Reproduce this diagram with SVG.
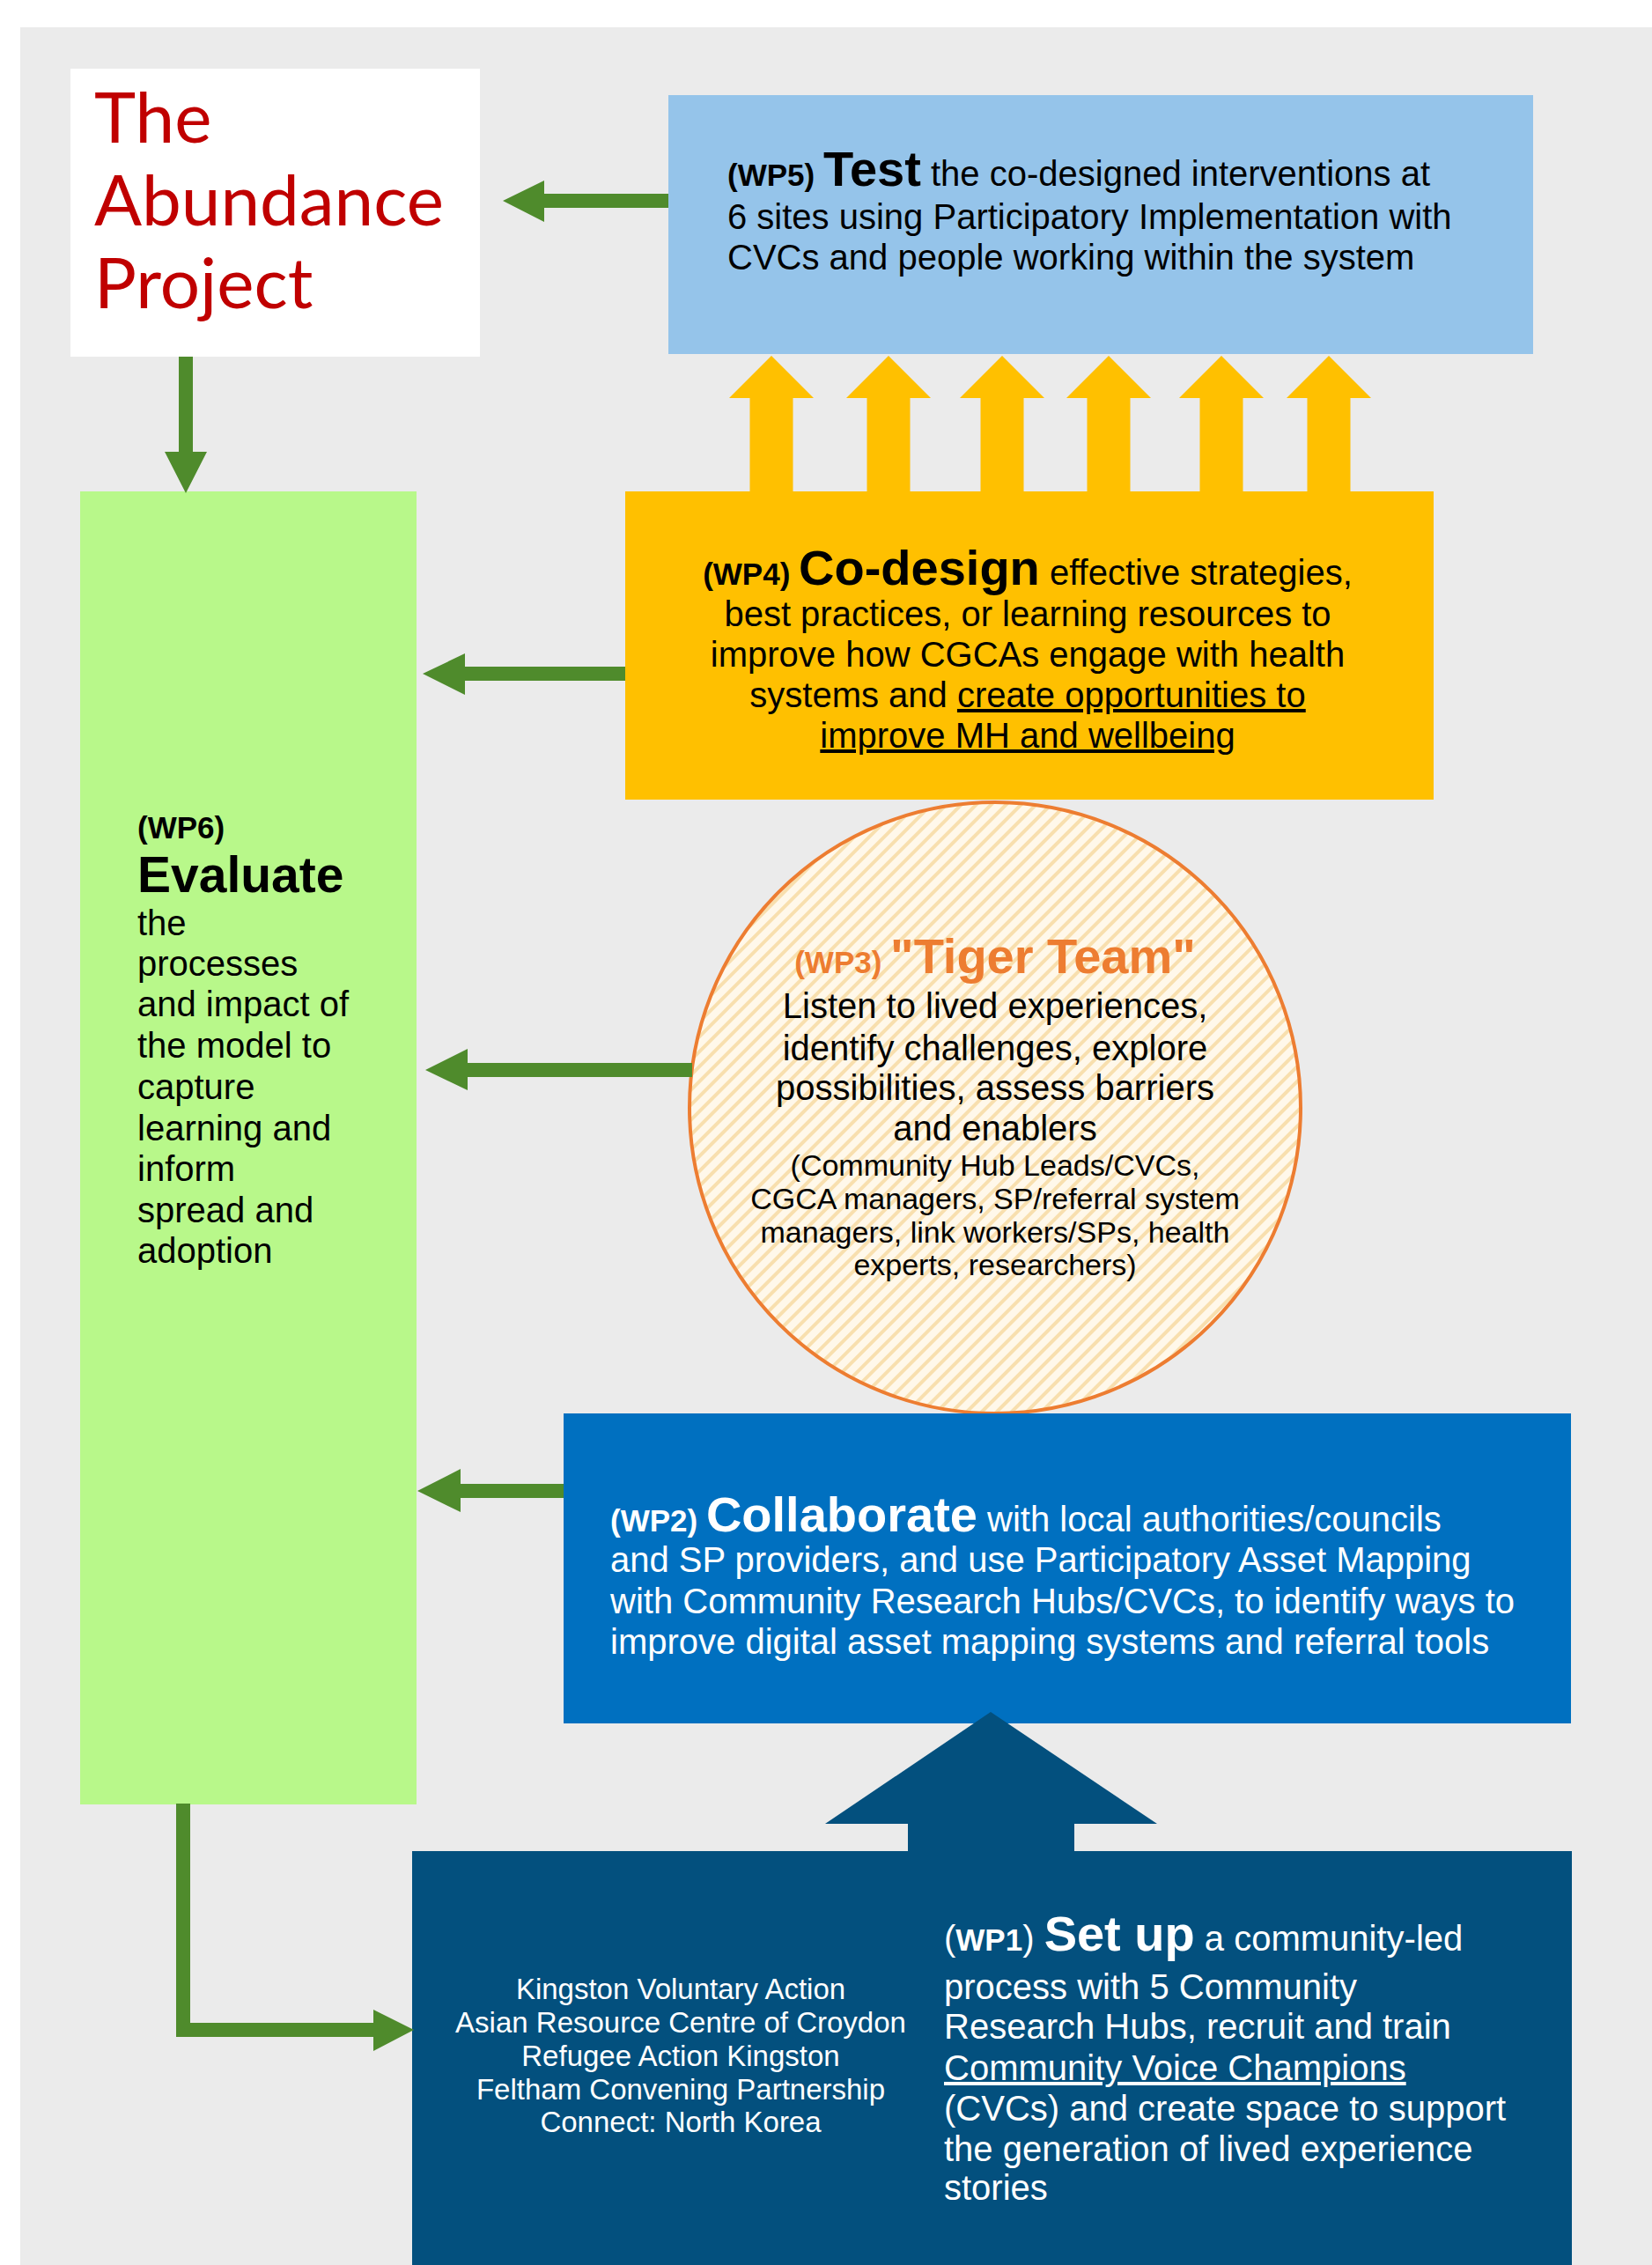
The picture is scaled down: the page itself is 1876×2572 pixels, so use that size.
<svg xmlns="http://www.w3.org/2000/svg" width="1876" height="2572" viewBox="0 0 1876 2572">
<defs>
<style>
.t{font-family:"Liberation Sans",Arial,sans-serif;font-size:40px;fill:#000}
.w{fill:#fff}
.b{font-weight:bold}
.wp{font-weight:bold;font-size:35px}
.h{font-weight:bold;font-size:56px}
.ev{font-weight:bold;font-size:57px}
.s34{font-size:34px}
.s33{font-size:33px}
.g{fill:#4F8B2C}
.y{fill:#FFC000}
.title{font-family:Lato,"Open Sans",sans-serif;font-size:80px;fill:#C00000}
</style>
<pattern id="stripes" width="12" height="12" patternUnits="userSpaceOnUse" patternTransform="rotate(45)">
<rect width="12" height="12" fill="#FFF8EA"/>
<rect width="4" height="12" fill="#F8DFAE"/>
</pattern>
</defs>
<rect x="0" y="0" width="1876" height="2572" fill="#fff"/>
<rect x="23" y="31" width="1853" height="2541" fill="#EBEBEB"/>

<g id="title">
<rect x="80" y="78" width="465" height="327" fill="#fff"/>
<text class="title" x="107" y="162">The</text>
<text class="title" x="107" y="256">Abundance</text>
<text class="title" x="107" y="350">Project</text>
</g>

<g id="wp5">
<rect x="759" y="108" width="982" height="294" fill="#95C4EA"/>
<text class="t" x="826" y="211"><tspan class="wp">(WP5) </tspan><tspan class="h">Test</tspan> the co-designed interventions at</text>
<text class="t" x="826" y="260">6 sites using Participatory Implementation with</text>
<text class="t" x="826" y="306">CVCs and people working within the system</text>
</g>

<g id="wp6">
<rect x="91" y="558" width="382" height="1491" fill="#B8F88A"/>
<text class="t wp" x="156" y="952">(WP6)</text>
<text class="t ev" x="156" y="1013">Evaluate</text>
<text class="t" x="156" y="1062">the</text>
<text class="t" x="156" y="1108">processes</text>
<text class="t" x="156" y="1154">and impact of</text>
<text class="t" x="156" y="1201">the model to</text>
<text class="t" x="156" y="1248">capture</text>
<text class="t" x="156" y="1295">learning and</text>
<text class="t" x="156" y="1341">inform</text>
<text class="t" x="156" y="1388">spread and</text>
<text class="t" x="156" y="1434">adoption</text>
</g>

<g id="wp4">
<rect x="710" y="558" width="918" height="350" fill="#FFC000"/>
<text class="t" x="1167" y="664" text-anchor="middle"><tspan class="wp">(WP4) </tspan><tspan class="h">Co-design</tspan> effective strategies,</text>
<text class="t" x="1167" y="711" text-anchor="middle">best practices, or learning resources to</text>
<text class="t" x="1167" y="757" text-anchor="middle">improve how CGCAs engage with health</text>
<text class="t" x="1167" y="803" text-anchor="middle">systems and <tspan text-decoration="underline">create opportunities to</tspan></text>
<text class="t" x="1167" y="849" text-anchor="middle" text-decoration="underline">improve MH and wellbeing</text>
</g>

<g id="wp3">
<circle cx="1130" cy="1258" r="347" fill="url(#stripes)" stroke="#ED7D31" stroke-width="4"/>
<text class="t" x="1130" y="1105" text-anchor="middle" style="fill:#ED7D31"><tspan class="wp">(WP3) </tspan><tspan class="h">"Tiger Team"</tspan></text>
<text class="t" x="1130" y="1156" text-anchor="middle">Listen to lived experiences,</text>
<text class="t" x="1130" y="1204" text-anchor="middle">identify challenges, explore</text>
<text class="t" x="1130" y="1249" text-anchor="middle">possibilities, assess barriers</text>
<text class="t" x="1130" y="1295" text-anchor="middle">and enablers</text>
<text class="t s34" x="1130" y="1335" text-anchor="middle">(Community Hub Leads/CVCs,</text>
<text class="t s34" x="1130" y="1373" text-anchor="middle">CGCA managers, SP/referral system</text>
<text class="t s34" x="1130" y="1411" text-anchor="middle">managers, link workers/SPs, health</text>
<text class="t s34" x="1130" y="1448" text-anchor="middle">experts, researchers)</text>
</g>

<g id="wp2">
<rect x="640" y="1605" width="1144" height="352" fill="#0070C0"/>
<text class="t w" x="693" y="1739"><tspan class="wp">(WP2) </tspan><tspan class="h">Collaborate</tspan> with local authorities/councils</text>
<text class="t w" x="693" y="1785">and SP providers, and use Participatory Asset Mapping</text>
<text class="t w" x="693" y="1832">with Community Research Hubs/CVCs, to identify ways to</text>
<text class="t w" x="693" y="1878">improve digital asset mapping systems and referral tools</text>
</g>

<g id="wp1">
<rect x="468" y="2102" width="1317" height="470" fill="#03507E"/>
<text class="t w s33" x="773" y="2270" text-anchor="middle">Kingston Voluntary Action</text>
<text class="t w s33" x="773" y="2308" text-anchor="middle">Asian Resource Centre of Croydon</text>
<text class="t w s33" x="773" y="2346" text-anchor="middle">Refugee Action Kingston</text>
<text class="t w s33" x="773" y="2384" text-anchor="middle">Feltham Convening Partnership</text>
<text class="t w s33" x="773" y="2421" text-anchor="middle">Connect: North Korea</text>
<text class="t w" x="1072" y="2215">(<tspan class="b" font-size="35">WP1</tspan>) <tspan class="h">Set up</tspan> a community-led</text>
<text class="t w" x="1072" y="2270">process with 5 Community</text>
<text class="t w" x="1072" y="2315">Research Hubs, recruit and train</text>
<text class="t w" x="1072" y="2362" text-decoration="underline">Community Voice Champions</text>
<text class="t w" x="1072" y="2408">(CVCs) and create space to support</text>
<text class="t w" x="1072" y="2454">the generation of lived experience</text>
<text class="t w" x="1072" y="2498">stories</text>
</g>

<g id="connectors">
<polygon class="g" points="759,220 618,220 618,205 571,228 618,252 618,236 759,236"/>
<polygon class="g" points="203,405 219,405 219,513 235,513 211,560 187,513 203,513"/>
<polygon class="g" points="710,757 528,757 528,742 480,765 528,789 528,773 710,773"/>
<polygon class="g" points="786,1207 531,1207 531,1191 483,1215 531,1238 531,1223 786,1223"/>
<polygon class="g" points="640,1685 523,1685 523,1668 474,1693 523,1717 523,1701 640,1701"/>
<polygon class="g" points="200,2048 216,2048 216,2297 424,2297 424,2282 470,2305 424,2329 424,2313 200,2313"/>
<polygon class="y" points="851.5,558 851.5,452 828,452 876,404 924,452 900.5,452 900.5,558"/>
<polygon class="y" points="984.5,558 984.5,452 961,452 1009,404 1057,452 1033.5,452 1033.5,558"/>
<polygon class="y" points="1113.5,558 1113.5,452 1090,452 1138,404 1186,452 1162.5,452 1162.5,558"/>
<polygon class="y" points="1234.5,558 1234.5,452 1211,452 1259,404 1307,452 1283.5,452 1283.5,558"/>
<polygon class="y" points="1362.5,558 1362.5,452 1339,452 1387,404 1435,452 1411.5,452 1411.5,558"/>
<polygon class="y" points="1484.5,558 1484.5,452 1461,452 1509,404 1557,452 1533.5,452 1533.5,558"/>
<polygon fill="#03507E" points="1031,2104 1031,2071 937,2071 1125,1944 1314,2071 1220,2071 1220,2104"/>
</g>
</svg>
